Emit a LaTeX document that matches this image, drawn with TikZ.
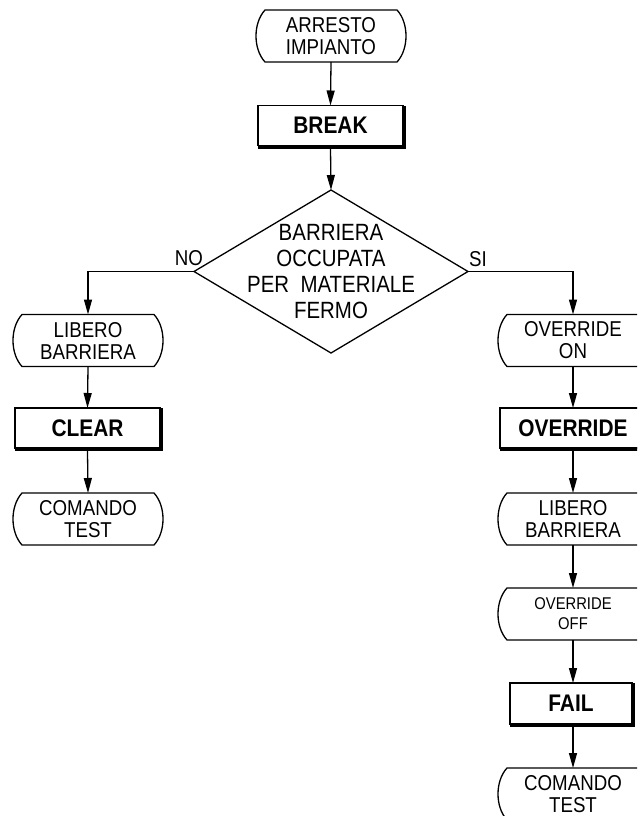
\documentclass[tikz,border=0pt]{standalone}
\usepackage{fontspec}
\setmainfont{Liberation Sans}[FakeStretch=0.87]
\usetikzlibrary{arrows.meta,shapes.geometric}
\newcommand\termoutline[1]{%
  \draw[lw] ([xshift=9pt]#1.north west) -- ([xshift=-9pt]#1.north east)
    .. controls ([xshift=3pt,yshift=-13pt]#1.north east) and ([xshift=3pt,yshift=13pt]#1.south east) .. ([xshift=-9pt]#1.south east)
    -- ([xshift=9pt]#1.south west)
    .. controls ([xshift=-3pt,yshift=13pt]#1.south west) and ([xshift=-3pt,yshift=-13pt]#1.north west) .. ([xshift=9pt]#1.north west) -- cycle;}
\newcommand\boxshadow[1]{%
  \fill ([xshift=-0.65pt]#1.north east) rectangle ([xshift=3.2pt,yshift=-3.2pt]#1.south east);
  \fill ([yshift=0.65pt]#1.south west) rectangle ([xshift=3.2pt,yshift=-3.2pt]#1.south east);}
\begin{document}
\begin{tikzpicture}[x=1pt,y=-1pt,
  lw/.style={line width=1.3pt},
  arr/.style={lw,-{Triangle[length=15pt,width=8pt]}},
  term/.style={minimum width=150pt,minimum height=52pt,inner sep=0pt,outer sep=0pt,align=center,font=\fontsize{21.5}{22}\selectfont},
  termsm/.style={term,font=\fontsize{17}{20}\selectfont},
  sbox/.style={draw,lw,fill=white,minimum height=40pt,inner sep=0pt,outer sep=0pt,font=\bfseries\fontsize{24}{24}\selectfont},
  lbl/.style={inner sep=0pt,font=\fontsize{21.5}{22}\selectfont}
]
\fill[white] (0,0) rectangle (637,816);
\useasboundingbox (0,0) rectangle (637,816);
\clip (0,0) rectangle (637,816);

% center column
\node[term] (a) at (331,36) {ARRESTO\\IMPIANTO};
\node[sbox,minimum width=145pt] (b) at (330.5,125.5) {BREAK};
\node[draw,lw,diamond,minimum width=274pt,minimum height=163pt,inner sep=0pt,outer sep=0pt] (d) at (331,271.5) {};
\node[align=center,inner sep=0pt,font=\fontsize{23.5}{26}\selectfont] (dt) at (331,272) {BARRIERA\\OCCUPATA\\PER\ \ MATERIALE\\FERMO};
\node[lbl] (no) at (189,258) {NO};
\node[lbl] (si) at (478,259) {SI};

% left column
\node[term] (l1) at (88,340.5) {LIBERO\\BARRIERA};
\node[sbox,minimum width=145pt] (l2) at (87.5,428) {CLEAR};
\node[term] (l3) at (88,519) {COMANDO\\TEST};

% right column
\node[term] (r1) at (573,340.5) {OVERRIDE\\ON};
\node[sbox,minimum width=146pt] (r2) at (573,428) {OVERRIDE};
\node[term] (r3) at (573,519) {LIBERO\\BARRIERA};
\node[termsm] (r4) at (573,614) {OVERRIDE\\OFF};
\node[sbox,minimum width=122pt,minimum height=41pt] (r5) at (571,703.5) {FAIL};
\node[term] (r6) at (573,794) {COMANDO\\TEST};

\foreach \n in {a,l1,l3,r1,r3,r4,r6} {\termoutline{\n}}
\foreach \n in {b,l2,r2,r5} {\boxshadow{\n}}

% connectors
\draw[arr] (a.south) -- (b.north);
\draw[arr] ([yshift=-3pt]b.south) -- (d.north);
\draw[arr] (d.west) -| (l1.north);
\draw[arr] (d.east) -| (r1.north);
\draw[arr] (l1.south) -- (l2.north);
\draw[arr] ([yshift=-3pt]l2.south) -- (l3.north);
\draw[arr] (r1.south) -- (r2.north);
\draw[arr] ([yshift=-3pt]r2.south) -- (r3.north);
\draw[arr] (r3.south) -- (r4.north);
\draw[arr] (r4.south) -- (r5.north -| r4.south);
\draw[arr] ([yshift=-3pt]r5.south -| r4.south) -- (r6.north);
\end{tikzpicture}
\end{document}
